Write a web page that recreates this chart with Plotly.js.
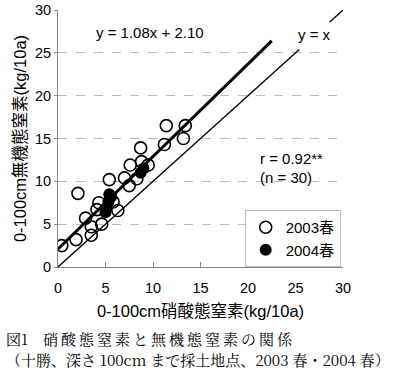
<!DOCTYPE html>
<html><head><meta charset="utf-8">
<script src="https://cdn.plot.ly/plotly-3.0.1.min.js"></script>
<style>html,body{margin:0;padding:0;background:#fff}#c{width:400px;height:369px}</style>
</head><body><div id="c"></div>
<script>
const x2003 = [0.4,1.9,2.1,2.9,3.5,3.5,4.6,4.3,5.4,6.3,5.8,7.0,7.5,7.6,8.3,8.7,8.8,9.5,11.2,11.4,13.2,13.4,4.1];
const y2003 = [2.5,3.2,8.6,5.7,4.7,3.7,5.0,7.5,10.2,6.6,7.6,10.4,9.5,11.9,10.3,13.9,12.3,11.9,14.3,16.5,15.0,16.5,6.7];
const x2004 = [5.0,5.1,5.3,5.4,5.6,8.7,9.0];
const y2004 = [6.4,6.9,7.6,8.5,8.2,11.0,11.5];
const regX = [0, 22.5];
const slope = 1.08, intercept = 2.10;
const idX = [0, 25.4, null, 28.6, 30];
const xTicks = [0,5,10,15,20,25,30];
const yTicks = [0,5,10,15,20,25,30];
const names = ['2003春','2004春'];
const caption1 = '図1\u2003' + '硝酸態窒素と無機態窒素の関係'.split('').join('\u2009');
const caption2 = '（十勝、深さ 100cm まで採土地点、2003 春・2004 春）';

const fnt = 'Liberation Sans, Arial, Noto Sans CJK JP, sans-serif';
const cjk = 'Liberation Sans, Noto Sans CJK JP, sans-serif';
const serif = 'Noto Serif CJK JP, Noto Sans CJK JP, serif';
const data = [
  {x: regX, y: regX.map(v=>slope*v+intercept), mode:'lines', line:{color:'#000', width:3}, showlegend:false, hoverinfo:'skip'},
  {x: idX, y: idX, mode:'lines', line:{color:'#000', width:1.3}, showlegend:false, connectgaps:false, hoverinfo:'skip'},
  {x: x2003, y: y2003, mode:'markers', name: names[0], marker:{symbol:'circle-open', size:12, color:'#000', line:{width:1.6, color:'#000'}}},
  {x: x2004, y: y2004, mode:'markers', name: names[1], marker:{symbol:'circle', size:12, color:'#000'}}
];
const layout = {
  width:400, height:369,
  margin:{l:58, r:57, t:10, b:102},
  paper_bgcolor:'#fff', plot_bgcolor:'#fff',
  font:{family:fnt, size:14, color:'#000'},
  xaxis:{range:[0,30], tickvals:xTicks, showgrid:false, zeroline:false, showline:true, linecolor:'#888', linewidth:1,
    ticks:'inside', ticklen:5, tickcolor:'#888', tickfont:{size:14.5}, ticklabelstandoff:8,
    title:{text:'0-100cm硝酸態窒素(kg/10a)', font:{family:cjk, size:16.5}, standoff:10}},
  yaxis:{range:[0,30], tickvals:yTicks, showgrid:true, gridcolor:'#bbb', griddash:'dash', zeroline:false, showline:true, linecolor:'#888', linewidth:1,
    ticks:'outside', ticklen:3, tickcolor:'#888', tickfont:{size:14.5},
    title:{text:'0-100cm無機態窒素(kg/10a)', font:{family:cjk, size:16.5}, standoff:4}},
  showlegend:true,
  legend:{x:0.655, y:0.222, xanchor:'left', yanchor:'top', bgcolor:'#fff', bordercolor:'#bbb', borderwidth:1,
    font:{family:cjk, size:15}, itemwidth:30, tracegroupgap:0},
  annotations:[
    {x:9.7, y:27.4, xref:'x', yref:'y', text:'y = 1.08x + 2.10', showarrow:false, font:{size:15}},
    {x:27, y:27.1, xref:'x', yref:'y', text:'y = x', showarrow:false, font:{size:15}},
    {x:21.0, y:12.7, xref:'x', yref:'y', xanchor:'left', text:'r = 0.92**', showarrow:false, font:{size:15}},
    {x:21.0, y:10.5, xref:'x', yref:'y', xanchor:'left', text:'(n = 30)', showarrow:false, font:{size:15}},
    {x:-0.19, y:-0.28, xref:'paper', yref:'paper', xanchor:'left', yanchor:'middle', text:caption1, showarrow:false, font:{family:serif, size:15}},
    {x:-0.19, y:-0.358, xref:'paper', yref:'paper', xanchor:'left', yanchor:'middle', text:caption2, showarrow:false, font:{family:serif, size:15}}
  ]
};
Plotly.newPlot('c', data, layout, {displayModeBar:false, staticPlot:true});
</script></body></html>
